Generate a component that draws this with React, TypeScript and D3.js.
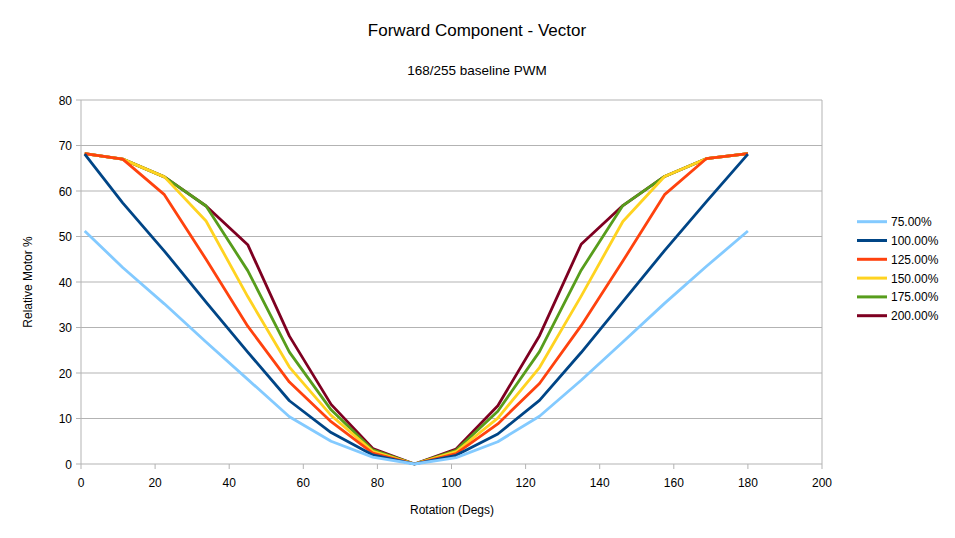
import React from "react";
import * as d3 from "d3";

const rotation = [1, 11.25, 22.5, 33.75, 45, 56.25, 67.5, 78.75, 90, 101.25, 112.5, 123.75, 135, 146.25, 157.5, 168.75, 180];

const s75 = [51.2, 43.2, 35.2, 26.8, 18.6, 10.4, 5.0, 1.5, 0, 1.4, 4.9, 10.5, 18.4, 26.8, 35.3, 43.4, 51.2];
const s100 = [68.1, 57.4, 46.8, 35.6, 24.6, 13.9, 6.9, 2.0, 0, 1.9, 6.6, 14.0, 24.5, 35.7, 46.9, 57.6, 68.1];
const s125 = [68.2, 67.0, 59.2, 45.0, 30.3, 18.0, 9.3, 2.4, 0, 2.3, 8.8, 17.7, 30.4, 44.6, 59.2, 67.1, 68.2];
const s150 = [68.2, 67.0, 63.1, 53.4, 36.8, 21.3, 10.7, 2.8, 0, 2.7, 10.1, 21.2, 36.9, 53.3, 63.2, 67.1, 68.2];
const s175 = [68.2, 67.0, 63.1, 56.7, 42.5, 24.6, 11.9, 3.1, 0, 3.0, 11.6, 24.7, 42.6, 56.8, 63.2, 67.1, 68.2];
const s200 = [68.2, 67.0, 63.1, 56.7, 48.2, 28.1, 13.1, 3.4, 0, 3.3, 12.8, 28.2, 48.3, 56.8, 63.2, 67.1, 68.2];

const seriesNames = ["75.00%", "100.00%", "125.00%", "150.00%", "175.00%", "200.00%"];
const seriesColors = ["#83CAFF", "#004586", "#FF420E", "#FFD320", "#579D1C", "#7E0021"];
const seriesValues = [s75, s100, s125, s150, s175, s200];

const xTicks = [0, 20, 40, 60, 80, 100, 120, 140, 160, 180, 200];
const yTicks = [0, 10, 20, 30, 40, 50, 60, 70, 80];

const title = "Forward Component - Vector";
const subtitle = "168/255 baseline PWM";
const xLabel = "Rotation (Degs)";
const yLabel = "Relative Motor %";

export default function App() {
  const W = 955, H = 538;
  const left = 81, right = 822, top = 100, bottom = 464;
  const x = d3.scaleLinear().domain([0, 200]).range([left, right]);
  const y = d3.scaleLinear().domain([0, 80]).range([bottom, top]);
  const line = d3
    .line<number>()
    .x((_, i) => x(rotation[i]))
    .y((v) => y(v));
  const font = "'Liberation Sans', Arial, sans-serif";
  const drawOrder = seriesValues.map((_, k) => k).reverse();
  return (
    <svg width={W} height={H} style={{ position: "absolute", left: 0, top: 0, background: "#fff" }} fontFamily={font}>
      <rect x={0} y={0} width={W} height={H} fill="#fff" />
      <text x={477} y={36} textAnchor="middle" fontSize={17} fill="#000">{title}</text>
      <text x={477} y={75} textAnchor="middle" fontSize={13.5} fill="#000">{subtitle}</text>
      {yTicks.map((t) => (
        <g key={"y" + t}>
          <line x1={left - 5} x2={right} y1={y(t)} y2={y(t)} stroke="#b3b3b3" strokeWidth={1} />
          <text x={left - 9} y={y(t) + 4.5} textAnchor="end" fontSize={12} fill="#000">{t}</text>
        </g>
      ))}
      {xTicks.map((t) => (
        <g key={"x" + t}>
          {t === 200 ? <line x1={x(t)} x2={x(t)} y1={top} y2={bottom} stroke="#b3b3b3" strokeWidth={1} /> : null}
          <line x1={x(t)} x2={x(t)} y1={bottom} y2={bottom + 5} stroke="#b3b3b3" strokeWidth={1} />
          <text x={x(t)} y={bottom + 23} textAnchor="middle" fontSize={12} fill="#000">{t}</text>
        </g>
      ))}
      <line x1={left} x2={left} y1={top} y2={bottom} stroke="#b3b3b3" strokeWidth={1} />
      {drawOrder.map((k) => (
        <path key={"s" + k} d={line(seriesValues[k]) || ""} fill="none" stroke={seriesColors[k]} strokeWidth={2.8} strokeLinejoin="round" />
      ))}
      <text x={452} y={514} textAnchor="middle" fontSize={12} fill="#000">{xLabel}</text>
      <text transform={`translate(32,282) rotate(-90)`} textAnchor="middle" fontSize={12} fill="#000">{yLabel}</text>
      {seriesNames.map((n, k) => {
        const ly = 221.7 + k * 18.8;
        return (
          <g key={"l" + k}>
            <line x1={857} x2={887} y1={ly} y2={ly} stroke={seriesColors[k]} strokeWidth={3} />
            <text x={891} y={ly + 4.5} fontSize={12} fill="#000">{n}</text>
          </g>
        );
      })}
    </svg>
  );
}
